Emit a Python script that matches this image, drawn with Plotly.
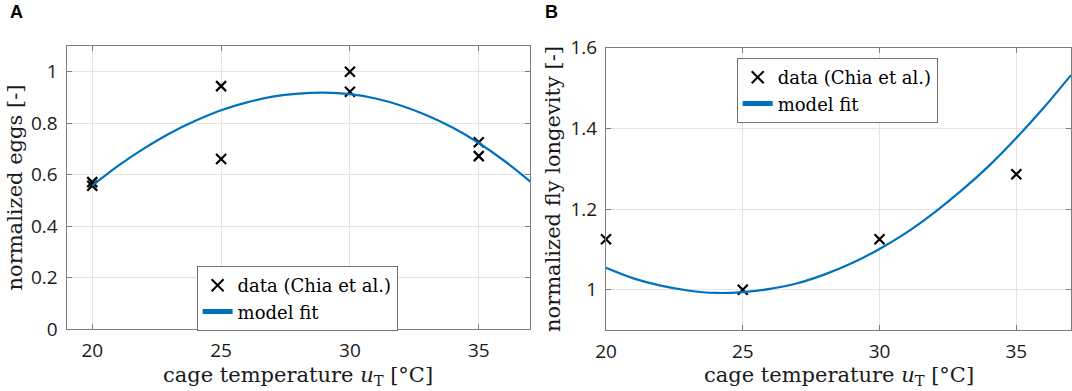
import plotly.graph_objects as go

# ---- data ----
egg_temp = [20, 20, 25, 25, 30, 30, 35, 35]
egg_values = [0.571, 0.557, 0.944, 0.661, 1.0, 0.922, 0.726, 0.672]

fit_temp = [20, 21, 22, 23, 24, 25, 26, 27, 28, 29, 30, 31, 32, 33, 34, 35, 36, 37]
egg_fit = [0.557, 0.634, 0.701, 0.760, 0.809, 0.850, 0.881, 0.903, 0.915, 0.919,
           0.913, 0.896, 0.868, 0.830, 0.782, 0.723, 0.653, 0.573]

long_temp = [20, 25, 30, 35]
long_values = [1.125, 1.0, 1.125, 1.286]
long_fit = [1.054, 1.028, 1.010, 0.998, 0.992, 0.994, 1.002, 1.016, 1.038, 1.066,
            1.101, 1.142, 1.191, 1.246, 1.307, 1.376, 1.451, 1.532]

x_ticks = [20, 25, 30, 35]
egg_ticks = [0, 0.2, 0.4, 0.6, 0.8, 1]
egg_ticklabels = ["0", "0.2", "0.4", "0.6", "0.8", "1"]
long_ticks = [1, 1.2, 1.4, 1.6]
long_ticklabels = ["1", "1.2", "1.4", "1.6"]

data_name = "data (Chia et al.)"
fit_name = "model fit"

W, H = 1072, 391
BLUE = "#0072BD"
SERIF = "DejaVu Serif"
SANS = "Open Sans"

fig = go.Figure()

marker_style = dict(symbol="x-thin", size=10, color="black",
                    line=dict(width=2.2, color="black"))

fig.add_trace(go.Scatter(x=egg_temp, y=egg_values, mode="markers", name=data_name,
                         marker=marker_style, cliponaxis=False,
                         xaxis="x", yaxis="y", legend="legend"))
fig.add_trace(go.Scatter(x=fit_temp, y=egg_fit, mode="lines", name=fit_name,
                         line=dict(color=BLUE, width=2.2, shape="spline"),
                         xaxis="x", yaxis="y", legend="legend"))
fig.add_trace(go.Scatter(x=long_temp, y=long_values, mode="markers", name=data_name,
                         marker=marker_style, cliponaxis=False,
                         xaxis="x2", yaxis="y2", legend="legend2"))
fig.add_trace(go.Scatter(x=fit_temp, y=long_fit, mode="lines", name=fit_name,
                         line=dict(color=BLUE, width=2.2, shape="spline"),
                         xaxis="x2", yaxis="y2", legend="legend2"))

AX_COLOR = "#7f7f7f"
GRID = "#e4e4e4"
tickfont = dict(family=SANS, size=19, color="#1a1a1a")

def axis_style(**kw):
    d = dict(showline=True, linecolor=AX_COLOR, linewidth=1, mirror="allticks",
             ticks="inside", ticklen=5, tickcolor=AX_COLOR, tickwidth=1,
             showgrid=True, gridcolor=GRID, gridwidth=1, zeroline=False,
             tickfont=tickfont, automargin=False)
    d.update(kw)
    return d

def px_x(a, b):
    return [a / W, b / W]

def px_y(top, bottom):
    return [1 - bottom / H, 1 - top / H]

legend_font = dict(family=SERIF, size=18, color="black")

fig.update_layout(
    width=W, height=H,
    margin=dict(l=0, r=0, t=0, b=0),
    font=dict(family=SERIF, size=18, color="black"),
    paper_bgcolor="white", plot_bgcolor="white",
    showlegend=True,
    xaxis=axis_style(domain=px_x(66.5, 530.3), range=[19, 37], tickvals=x_ticks,
                     anchor="y", ticklabelstandoff=4),
    yaxis=axis_style(domain=px_y(46, 329), range=[0, 1.1], tickvals=egg_ticks,
                     ticktext=egg_ticklabels, anchor="x", ticklabelstandoff=4),
    xaxis2=axis_style(domain=px_x(606, 1071), range=[20, 37], tickvals=x_ticks,
                      anchor="y2", ticklabelstandoff=4),
    yaxis2=axis_style(domain=px_y(47.7, 330), range=[0.9, 1.6], tickvals=long_ticks,
                      ticktext=long_ticklabels, anchor="x2", ticklabelstandoff=4),
    legend=dict(x=196.6 / W, y=1 - 266 / H, xanchor="left", yanchor="top",
                bgcolor="white", bordercolor="#6f6f6f", borderwidth=1,
                font=legend_font, tracegroupgap=0, itemsizing="constant"),
    legend2=dict(x=736.7 / W, y=1 - 58 / H, xanchor="left", yanchor="top",
                 bgcolor="white", bordercolor="#6f6f6f", borderwidth=1,
                 font=legend_font, tracegroupgap=0, itemsizing="constant"),
)

title_font = dict(family=SERIF, size=21, color="#1a1a1a")
xtitle = "cage temperature <i>u</i><sub>T</sub> [°C]"
annotations = [
    dict(text=xtitle, x=298.4 / W, y=1 - 376 / H, xref="paper", yref="paper",
         showarrow=False, font=title_font, xanchor="center", yanchor="middle"),
    dict(text=xtitle, x=838.5 / W, y=1 - 376 / H, xref="paper", yref="paper",
         showarrow=False, font=title_font, xanchor="center", yanchor="middle"),
    dict(text="normalized eggs [-]", x=14 / W, y=1 - 187.5 / H, xref="paper",
         yref="paper", showarrow=False, font=title_font, textangle=-90,
         xanchor="center", yanchor="middle"),
    dict(text="normalized fly longevity [-]", x=553 / W, y=1 - 189 / H, xref="paper",
         yref="paper", showarrow=False, font=title_font, textangle=-90,
         xanchor="center", yanchor="middle"),
    dict(text="<b>A</b>", x=16.5 / W, y=1, xref="paper", yref="paper",
         showarrow=False, font=dict(family="Liberation Sans", size=18, color="black"),
         xanchor="center", yanchor="top"),
    dict(text="<b>B</b>", x=551.5 / W, y=1, xref="paper", yref="paper",
         showarrow=False, font=dict(family="Liberation Sans", size=18, color="black"),
         xanchor="center", yanchor="top"),
]
fig.update_layout(annotations=annotations)

fig.write_html("out.html",
               config={"displayModeBar": False},
               post_script="document.body.style.margin='0px';"
                           "document.body.style.overflow='hidden';")
